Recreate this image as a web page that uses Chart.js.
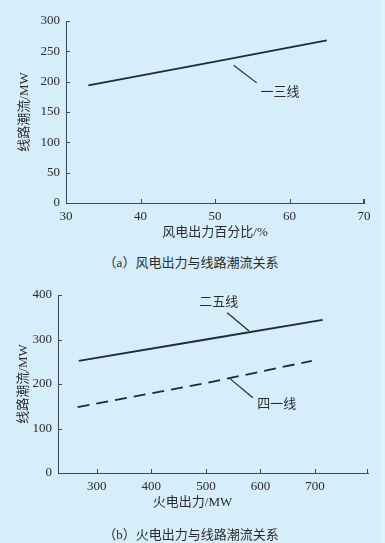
<!DOCTYPE html>
<html>
<head>
<meta charset="utf-8">
<script src="https://cdn.jsdelivr.net/npm/chart.js@4.4.1/dist/chart.umd.min.js"></script>
<style>
  body { margin: 0; width: 385px; height: 543px; position: relative; overflow: hidden;
         background: #d6eef9; color: #2b2b2b;
         font-family: "Liberation Serif", "Noto Sans CJK SC", serif; }
  canvas { position: absolute; left: 0; }
  .txt { position: absolute; left: 0; text-align: center; font-size: 13px; line-height: 16px; white-space: nowrap; }
  #strip { position: absolute; left: 381px; top: 0; width: 4px; height: 543px; background: #e0f2fb; }
</style>
</head>
<body>
<div id="strip"></div>
<canvas id="chartA" width="385" height="245" style="top:0"></canvas>
<div class="txt" style="top:255px;width:382px">（a）风电出力与线路潮流关系</div>
<canvas id="chartB" width="385" height="240" style="top:270px"></canvas>
<div class="txt" style="top:494px;width:385px">火电出力/MW</div>
<div class="txt" style="top:527px;width:382px">（b）火电出力与线路潮流关系</div>

<script>
// (a) 风电出力百分比 vs 一三线潮流
const windPct = [33, 50, 65];
const flow13 = [194, 233, 268];
// (b) 火电出力 vs 二五线 / 四一线潮流
const thermalX25 = [267, 500, 714];
const flow25 = [252, 300, 344];
const thermalX41 = [265, 500, 694];
const flow41 = [148, 202, 252];
// tick labels
const xTicksA = [30, 40, 50, 60, 70];
const yTicksA = [0, 50, 100, 150, 200, 250, 300];
const xTicksB = [300, 400, 500, 600, 700];
const yTicksB = [0, 100, 200, 300, 400];

const ink = '#2b2b2b';
const axisColor = '#3c4a54';
const lineColor = '#1f2a31';
const font = { family: '"Liberation Serif", "Noto Sans CJK SC", serif', size: 13 };

function pts(xs, ys) {
  return xs.map((x, i) => ({ x: x, y: ys[i] }));
}

// small tick marks pointing into the plot
const innerTicks = {
  id: 'innerTicks',
  afterDraw(chart) {
    const { ctx, chartArea: a, scales: { x, y } } = chart;
    ctx.save();
    ctx.strokeStyle = axisColor;
    ctx.lineWidth = 1;
    ctx.beginPath();
    x.ticks.forEach(t => {
      const px = Math.round(x.getPixelForValue(t.value)) + 0.5;
      ctx.moveTo(px, a.bottom);
      ctx.lineTo(px, a.bottom - 4);
    });
    ctx.moveTo(Math.round(a.right) - 0.5, a.bottom);
    ctx.lineTo(Math.round(a.right) - 0.5, a.bottom - 4);
    y.ticks.forEach(t => {
      const py = Math.round(y.getPixelForValue(t.value)) + 0.5;
      ctx.moveTo(a.left, py);
      ctx.lineTo(a.left + 4, py);
    });
    ctx.stroke();
    ctx.restore();
  }
};

// leader lines + series names
function notes(list) {
  return {
    id: 'notes',
    afterDatasetsDraw(chart) {
      const { ctx, scales: { x, y } } = chart;
      ctx.save();
      ctx.strokeStyle = lineColor;
      ctx.lineWidth = 1.2;
      ctx.fillStyle = ink;
      ctx.font = '13px ' + font.family;
      ctx.textAlign = 'left';
      ctx.textBaseline = 'middle';
      list.forEach(n => {
        ctx.beginPath();
        ctx.moveTo(x.getPixelForValue(n.from[0]), y.getPixelForValue(n.from[1]));
        ctx.lineTo(x.getPixelForValue(n.to[0]), y.getPixelForValue(n.to[1]));
        ctx.stroke();
        ctx.fillText(n.text, x.getPixelForValue(n.at[0]), y.getPixelForValue(n.at[1]));
      });
      ctx.restore();
    }
  };
}

function axis(min, max, tickList, width, height, titleText, titlePad) {
  const s = {
    type: 'linear',
    min: min,
    max: max,
    afterBuildTicks: scale => { scale.ticks = tickList.map(v => ({ value: v })); },
    grid: { display: true, drawOnChartArea: false, drawTicks: false },
    border: { display: true, color: axisColor, width: 1 },
    ticks: { color: ink, font: font, padding: 6 }
  };
  if (width) s.afterFit = scale => { scale.width = width; };
  if (height) s.afterFit = scale => { scale.height = height; };
  if (titleText) s.title = { display: true, text: titleText, color: ink, font: font, padding: { top: titlePad, bottom: titlePad } };
  return s;
}

function lineSet(data, dash) {
  return {
    data: data,
    borderColor: lineColor,
    borderWidth: 1.8,
    borderDash: dash || [],
    pointRadius: 0,
    tension: 0,
    showLine: true,
    fill: false
  };
}

new Chart(document.getElementById('chartA'), {
  type: 'scatter',
  data: { datasets: [lineSet(pts(windPct, flow13))] },
  options: {
    responsive: false,
    animation: false,
    layout: { padding: { top: 21, right: 21, left: 0, bottom: 0 } },
    plugins: { legend: { display: false }, tooltip: { enabled: false } },
    scales: {
      x: axis(30, 70, xTicksA, 0, 42, '风电出力百分比/%', 5),
      y: axis(0, 300, yTicksA, 66, 0, '线路潮流/MW', 17)
    }
  },
  plugins: [innerTicks, notes([
    { text: '一三线', from: [52.5, 227], to: [55.6, 198], at: [56.1, 182] }
  ])]
});

new Chart(document.getElementById('chartB'), {
  type: 'scatter',
  data: {
    datasets: [
      lineSet(pts(thermalX25, flow25)),
      lineSet(pts(thermalX41, flow41), [12, 7])
    ]
  },
  options: {
    responsive: false,
    animation: false,
    layout: { padding: { top: 25, right: 17, left: 0, bottom: 0 } },
    plugins: { legend: { display: false }, tooltip: { enabled: false } },
    scales: {
      x: axis(229, 797, xTicksB, 0, 37),
      y: axis(0, 400, yTicksB, 58, 0, '线路潮流/MW', 16)
    }
  },
  plugins: [innerTicks, notes([
    { text: '二五线', from: [539, 360], to: [579, 319], at: [488, 382] },
    { text: '四一线', from: [544, 212], to: [586, 169], at: [594, 153] }
  ])]
});
</script>
</body>
</html>
